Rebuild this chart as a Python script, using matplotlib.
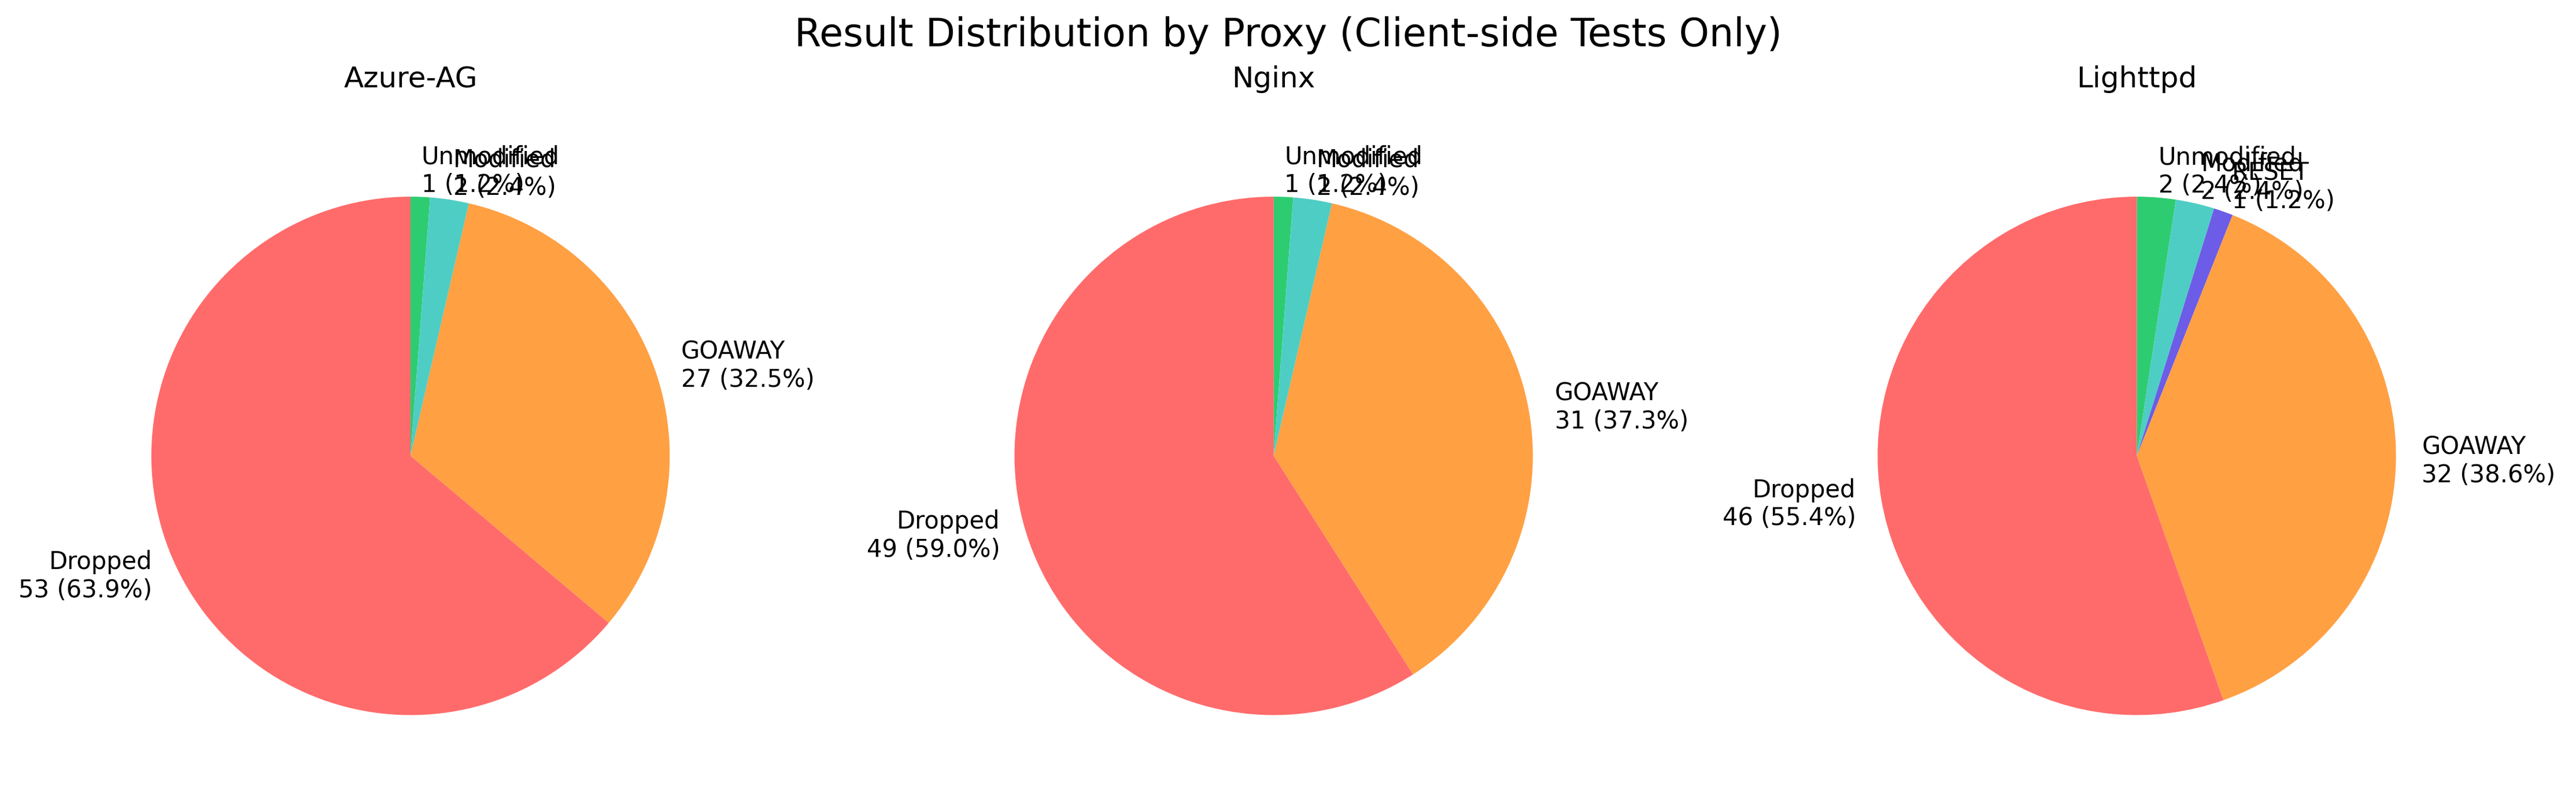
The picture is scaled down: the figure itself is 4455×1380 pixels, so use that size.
import matplotlib.pyplot as plt

# counts per proxy, in drawing order (clockwise from 12 o'clock)
proxies = ["Azure-AG", "Nginx", "Lighttpd"]
azure_labels = ["Unmodified", "Modified", "GOAWAY", "Dropped"]
azure_counts = [1, 2, 27, 53]
nginx_labels = ["Unmodified", "Modified", "GOAWAY", "Dropped"]
nginx_counts = [1, 2, 31, 49]
lighttpd_labels = ["Unmodified", "Modified", "RESET", "GOAWAY", "Dropped"]
lighttpd_counts = [2, 2, 1, 32, 46]

colors = {
    "Unmodified": "#2ECC71",
    "Modified": "#4ECDC4",
    "RESET": "#6C5CE7",
    "GOAWAY": "#FFA043",
    "Dropped": "#FF6B6B",
}

data = [
    (azure_labels, azure_counts),
    (nginx_labels, nginx_counts),
    (lighttpd_labels, lighttpd_counts),
]

fig, axes = plt.subplots(1, 3, figsize=(14.85, 4.6), dpi=300)

for ax, name, (labels, counts) in zip(axes, proxies, data):
    total = sum(counts)
    texts = [f"{l}\n{c} ({100 * c / total:.1f}%)" for l, c in zip(labels, counts)]
    ax.pie(counts, labels=texts, colors=[colors[l] for l in labels],
           startangle=90, counterclock=False, textprops={"fontsize": 10})
    ax.set_title(name, fontsize=12)
    ax.axis("equal")

fig.suptitle("Result Distribution by Proxy (Client-side Tests Only)", fontsize=16)
plt.tight_layout()

# spread the pies a touch wider and lower, keeping their size
sp = fig.subplotpars
w = (sp.right - sp.left) / (3 + 2 * sp.wspace)
left, right = sp.left - 4 / 1568, sp.right + 4 / 1568
wspace = ((right - left) / w - 3) / 2
plt.subplots_adjust(left=left, right=right, wspace=wspace,
                    bottom=sp.bottom - 4 / 486, top=sp.top - 4 / 486)

# titles sit higher above the pies in the original
for ax in axes:
    ax.title.set_y(1.0)
    ax.set_title(ax.get_title(), fontsize=12, pad=19)

plt.savefig("out.png", dpi=300)
plt.close()
